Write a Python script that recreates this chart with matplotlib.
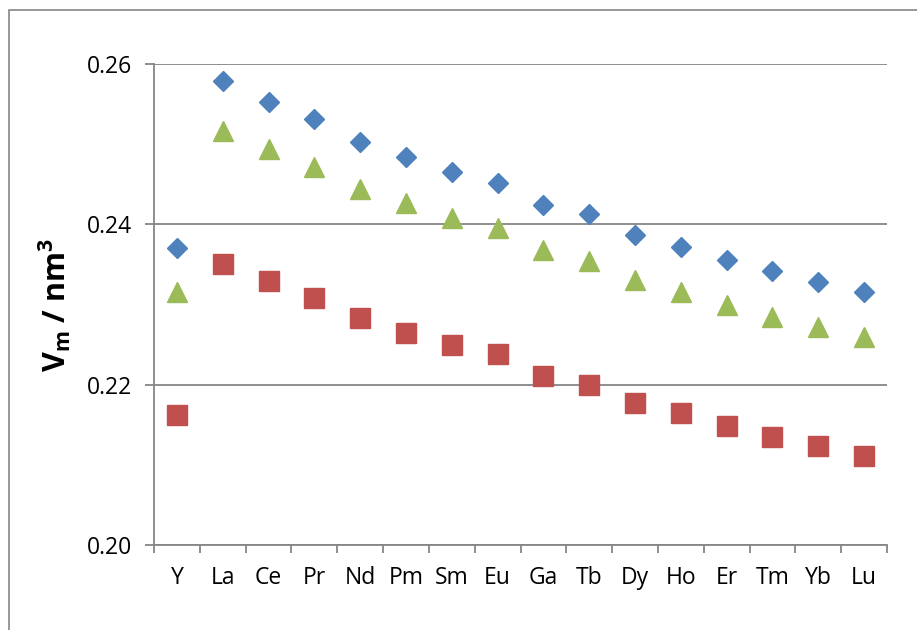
import matplotlib
matplotlib.use("Agg")
import matplotlib.pyplot as plt
from matplotlib.patches import Rectangle
import numpy as np

# data
elements = ["Y", "La", "Ce", "Pr", "Nd", "Pm", "Sm", "Eu",
            "Ga", "Tb", "Dy", "Ho", "Er", "Tm", "Yb", "Lu"]
vm_diamond = [0.2370, 0.2579, 0.2553, 0.2531, 0.2503, 0.2484, 0.2465, 0.2452,
              0.2424, 0.2413, 0.2387, 0.2372, 0.2356, 0.2342, 0.2328, 0.2316]
vm_triangle = [0.2315, 0.2517, 0.2494, 0.2472, 0.2444, 0.2427, 0.2408, 0.2395,
               0.2368, 0.2354, 0.2331, 0.2316, 0.2300, 0.2284, 0.2272, 0.2260]
vm_square = [0.2162, 0.2350, 0.2329, 0.2308, 0.2283, 0.2265, 0.2249, 0.2238,
             0.2211, 0.2199, 0.2177, 0.2165, 0.2148, 0.2135, 0.2123, 0.2111]
y_ticks = [0.20, 0.22, 0.24, 0.26]

GRAY = "#868686"
BLUE = "#4F81BD"
RED = "#C0504D"
GREEN = "#9BBB59"

plt.rcParams["font.family"] = ["Open Sans", "DejaVu Sans"]
plt.rcParams["mathtext.fontset"] = "custom"
plt.rcParams["mathtext.it"] = "Open Sans:bold"
plt.rcParams["mathtext.rm"] = "Open Sans:bold"
plt.rcParams["mathtext.bf"] = "Open Sans:bold"

W, H = 917, 630
fig = plt.figure(figsize=(W / 100, H / 100), dpi=100)

# outer chart frame (only left/top edges visible in the crop)
fig.patches.append(Rectangle((9 / W, -0.1), 1.2, 1.1 - 10 / H,
                             transform=fig.transFigure, fill=False,
                             edgecolor=GRAY, lw=1.2))

ax = fig.add_axes([154 / W, 1 - 545 / H, (887 - 154) / W, (545 - 64) / H])

x = np.arange(len(elements))
ax.plot(x, vm_diamond, linestyle="none", marker="D", markersize=10.5,
        color=BLUE, markeredgecolor=BLUE, zorder=3, clip_on=False)
ax.plot(x, vm_triangle, linestyle="none", marker="^", markersize=15,
        color=GREEN, markeredgecolor=GREEN, zorder=3, clip_on=False)
ax.plot(x, vm_square, linestyle="none", marker="s", markersize=14,
        color=RED, markeredgecolor=RED, zorder=3, clip_on=False)

ax.set_xlim(-0.5, len(elements) - 0.5)
ax.set_ylim(0.20, 0.26)
ax.set_yticks(y_ticks)
ax.set_yticklabels([f"{t:.2f}" for t in y_ticks])
ax.set_xticks(x)
ax.set_xticklabels(elements)
ax.set_xticks(np.arange(-0.5, len(elements)), minor=True)

for side in ("top", "right"):
    ax.spines[side].set_visible(False)
for side in ("left", "bottom"):
    ax.spines[side].set_color(GRAY)
    ax.spines[side].set_linewidth(1.3)

ax.yaxis.grid(True, color=GRAY, linewidth=1.3)
ax.set_axisbelow(True)

ax.tick_params(axis="x", which="major", length=0, pad=15, labelsize=16.5)
ax.tick_params(axis="x", which="minor", length=6, width=1.3, color=GRAY,
               direction="out")
ax.tick_params(axis="y", length=6.5, width=1.3, color=GRAY, pad=9,
               labelsize=16.5)

ax.set_ylabel(r"V$_{\mathrm{m}}$ / nm$^{\mathrm{3}}$", fontsize=22,
              fontweight="bold", labelpad=10)

fig.savefig("out.png", dpi=100)
